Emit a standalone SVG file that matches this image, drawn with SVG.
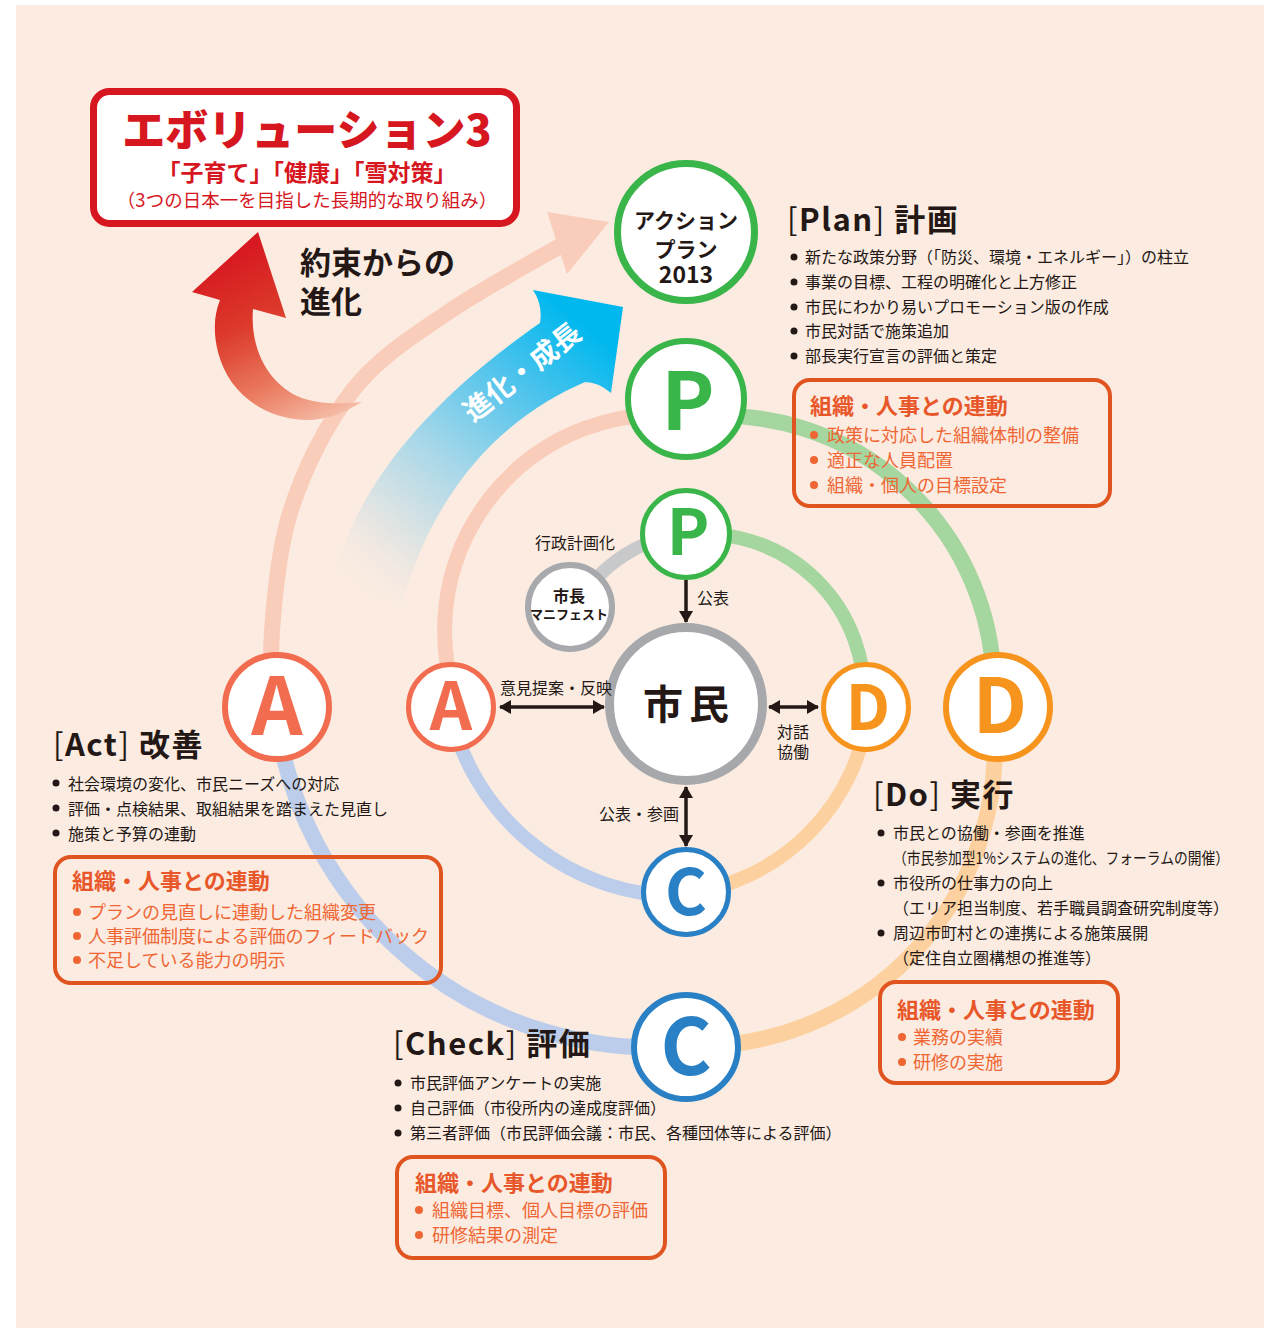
<svg xmlns="http://www.w3.org/2000/svg" width="1269" height="1328" viewBox="0 0 1269 1328">
<style>
text { font-family: 'Noto Sans CJK JP', 'Noto Sans', sans-serif; }
.body { font-size: 16px; fill: #231815; }
.head { font-size: 31px; font-weight: 700; fill: #231815; letter-spacing: 1.5px; }
.thin { font-weight: 400; }
.orgt { font-size: 22px; font-weight: 700; fill: #E8572A; }
.orgi { font-size: 18px; fill: #EF6634; }
.orgbox { fill: none; stroke: #E0541F; stroke-width: 4; }
.dot { fill: #231815; }
.odot { fill: #EF6634; }
.arc { fill: none; stroke-linecap: butt; }
.node { fill: #fff; }
.big { font-weight: 700; text-anchor: middle; }
.lbl { font-size: 16px; fill: #231815; }
.conn { stroke: #231815; stroke-width: 3.5; fill: none; }
</style>
<defs>
<marker id="ah" viewBox="0 0 12 14" refX="11" refY="7" markerWidth="12" markerHeight="14" markerUnits="userSpaceOnUse" orient="auto-start-reverse">
<path d="M0,0 L12,7 L0,14 Z" fill="#231815"/>
</marker>
<linearGradient id="gBlue" gradientUnits="userSpaceOnUse" x1="372" y1="598" x2="590" y2="330">
<stop offset="0" stop-color="#F6ECE3" stop-opacity="0"/>
<stop offset="0.15" stop-color="#E9E6E2" stop-opacity="0.9"/>
<stop offset="0.45" stop-color="#A6D7E9"/>
<stop offset="0.75" stop-color="#4EC3EC"/>
<stop offset="1" stop-color="#00B8EE"/>
</linearGradient>
<linearGradient id="gRed" gradientUnits="userSpaceOnUse" x1="245" y1="250" x2="330" y2="425">
<stop offset="0" stop-color="#D71A21"/>
<stop offset="0.35" stop-color="#DC3A2A"/>
<stop offset="0.7" stop-color="#EA7D62"/>
<stop offset="1" stop-color="#F7C3AE"/>
</linearGradient>
</defs>

<rect x="16" y="5" width="1248" height="1323" fill="#FBEBE0"/>

<g id="connectors">
<path class="arc" d="M271,660 C271,635 276,558 290,513 C304,468 327,423 353,390 C379,357 412,337 447,313 C482,289 543,256 562,245" stroke="#FACDBA" stroke-width="16"/>
<polygon points="547,212 609,222 567,274" fill="#FACDBA"/>
<path class="arc" d="M457.6,704.6 A216,216 0 0 1 684,416" stroke="#FACDBA" stroke-width="15"/>
<path class="arc" d="M688,418 A272,272 0 0 1 993,707" stroke="#A5D69F" stroke-width="16"/>
<path class="arc" d="M992,708 A298,298 0 0 1 686,1046" stroke="#FDD19F" stroke-width="16"/>
<path class="arc" d="M686,1046 A381,381 0 0 1 275,707" stroke="#BBCDEA" stroke-width="16"/>
<path class="arc" d="M686,535 A160,160 0 0 1 863.5,706.8" stroke="#A5D69F" stroke-width="14"/>
<path class="arc" d="M868.8,707.3 A210,210 0 0 1 686.2,893.4" stroke="#FDD19F" stroke-width="14"/>
<path class="arc" d="M686,896 A236,236 0 0 1 449,707" stroke="#BBCDEA" stroke-width="14"/>
<path class="arc" d="M585,592 Q612,555 660,538" stroke="#C8C9CA" stroke-width="13"/>
<line class="conn" x1="686" y1="580" x2="686" y2="622" marker-end="url(#ah)"/>
<line class="conn" x1="500" y1="707" x2="604" y2="707" marker-start="url(#ah)" marker-end="url(#ah)"/>
<line class="conn" x1="769" y1="707" x2="818" y2="707" marker-start="url(#ah)" marker-end="url(#ah)"/>
<line class="conn" x1="686" y1="787" x2="686" y2="846" marker-start="url(#ah)" marker-end="url(#ah)"/>
</g>

<g id="growth-arrow">
<path d="M333,582 C350,510 400,420 540,323 Q543,305 533,290 L623,307 L611,393 Q598,382 585,382 C520,410 440,470 402,603 Z" fill="url(#gBlue)"/>
<text transform="translate(522,372) rotate(-38)" x="0" y="10" text-anchor="middle" font-size="28" font-weight="700" fill="#fff">進化・成長</text>
</g>

<g id="promise-arrow">
<path d="M258,232 L286,318 L253,309 C250,345 265,380 297,396 C318,405 340,404 362,402 C345,412 330,420 305,420 C262,418 228,392 218,352 C213,332 214,315 220,300 L192,292 Z" fill="url(#gRed)"/>
<text x="300" y="274" font-size="31" font-weight="700" fill="#231815">約束からの</text>
<text x="300" y="313" font-size="31" font-weight="700" fill="#231815">進化</text>
</g>

<g id="evolution3">
<rect x="93.5" y="91.5" width="423" height="132" rx="16" fill="#fff" stroke="#D7171F" stroke-width="7"/>
<text x="307" y="146" text-anchor="middle" font-size="43" font-weight="900" fill="#D7171F">エボリューション3</text>
<text x="307" y="181" text-anchor="middle" font-size="23" font-weight="700" fill="#D7171F">「子育て」「健康」「雪対策」</text>
<text x="307" y="207" text-anchor="middle" font-size="18.5" fill="#D7171F">（3つの日本一を目指した長期的な取り組み）</text>
</g>

<g id="action-plan-2013">
<circle cx="686" cy="232" r="68.5" class="node" stroke="#3AB54A" stroke-width="7"/>
<text x="686" y="228" text-anchor="middle" font-size="21" font-weight="700" fill="#231815">アクション</text>
<text x="686" y="257" text-anchor="middle" font-size="21" font-weight="700" fill="#231815">プラン</text>
<text x="686" y="283" text-anchor="middle" font-size="23" font-weight="700" fill="#231815">2013</text>
</g>

<g id="plan-outer">
<circle cx="686" cy="399" r="58" class="node" stroke="#3AB54A" stroke-width="6"/>
<text x="688" y="430" class="big" font-size="80" fill="#3AB54A">P</text>
</g>
<g id="do-outer">
<circle cx="998" cy="707" r="52" class="node" stroke="#F7941E" stroke-width="6"/>
<text x="1000" y="733" class="big" font-size="76" fill="#F7941E">D</text>
</g>
<g id="check-outer">
<circle cx="686" cy="1047" r="52" class="node" stroke="#2A80C5" stroke-width="6"/>
<text x="686" y="1075" class="big" font-size="78" fill="#2A80C5">C</text>
</g>
<g id="act-outer">
<circle cx="277" cy="707" r="52" class="node" stroke="#F26C4F" stroke-width="6"/>
<text x="277" y="735" class="big" font-size="80" fill="#F26C4F">A</text>
</g>

<g id="manifest">
<circle cx="570" cy="607" r="42" class="node" stroke="#A7A9AC" stroke-width="6"/>
<text x="569" y="602" text-anchor="middle" font-size="16" font-weight="700" fill="#231815">市長</text>
<text x="569" y="619" text-anchor="middle" font-size="13" font-weight="700" fill="#231815">マニフェスト</text>
</g>
<g id="plan-inner">
<circle cx="686" cy="534" r="43.5" class="node" stroke="#3AB54A" stroke-width="5"/>
<text x="688" y="555" class="big" font-size="64" fill="#3AB54A">P</text>
</g>
<g id="do-inner">
<circle cx="866" cy="707" r="42.5" class="node" stroke="#F7941E" stroke-width="5"/>
<text x="868" y="730" class="big" font-size="62" fill="#F7941E">D</text>
</g>
<g id="check-inner">
<circle cx="686" cy="892" r="42.5" class="node" stroke="#2A80C5" stroke-width="5"/>
<text x="686" y="915" class="big" font-size="64" fill="#2A80C5">C</text>
</g>
<g id="act-inner">
<circle cx="451" cy="707" r="42.5" class="node" stroke="#F26C4F" stroke-width="5"/>
<text x="451" y="730" class="big" font-size="66" fill="#F26C4F">A</text>
</g>
<g id="citizens">
<circle cx="686" cy="704" r="76.5" class="node" stroke="#A6A8AB" stroke-width="9"/>
<text x="689" y="719" text-anchor="middle" font-size="40" font-weight="700" letter-spacing="6" fill="#231815">市民</text>
</g>

<g id="labels">
<text x="575" y="549" text-anchor="middle" class="lbl">行政計画化</text>
<text x="697" y="604" class="lbl">公表</text>
<text x="500" y="694" class="lbl" font-size="15">意見提案・反映</text>
<text x="599" y="820" class="lbl" font-size="15.5">公表・参画</text>
<text x="777" y="738" class="lbl">対話</text>
<text x="777" y="758" class="lbl">協働</text>
</g>

<g id="plan-text">
<text x="787" y="231" class="head"><tspan class="thin">[</tspan>Plan<tspan class="thin">]</tspan> 計画</text>
<circle class="dot" cx="794" cy="257" r="3.5"/>
<circle class="dot" cx="794" cy="282" r="3.5"/>
<circle class="dot" cx="794" cy="307" r="3.5"/>
<circle class="dot" cx="794" cy="331" r="3.5"/>
<circle class="dot" cx="794" cy="356" r="3.5"/>
<text x="805" y="263" class="body">新たな政策分野（「防災、環境・エネルギー」）の柱立</text>
<text x="805" y="288" class="body">事業の目標、工程の明確化と上方修正</text>
<text x="805" y="313" class="body">市民にわかり易いプロモーション版の作成</text>
<text x="805" y="337" class="body">市民対話で施策追加</text>
<text x="805" y="362" class="body">部長実行宣言の評価と策定</text>
</g>
<g id="plan-org">
<rect class="orgbox" x="794" y="380" width="316" height="126" rx="16"/>
<text x="810" y="414" class="orgt">組織・人事との連動</text>
<circle class="odot" cx="814" cy="435" r="4"/>
<circle class="odot" cx="814" cy="460" r="4"/>
<circle class="odot" cx="814" cy="485" r="4"/>
<text x="827" y="442" class="orgi">政策に対応した組織体制の整備</text>
<text x="827" y="467" class="orgi">適正な人員配置</text>
<text x="827" y="492" class="orgi">組織・個人の目標設定</text>
</g>

<g id="act-text">
<text x="53" y="756" class="head"><tspan class="thin">[</tspan>Act<tspan class="thin">]</tspan> 改善</text>
<circle class="dot" cx="56" cy="783" r="3.5"/>
<circle class="dot" cx="56" cy="808" r="3.5"/>
<circle class="dot" cx="56" cy="833" r="3.5"/>
<text x="68" y="790" class="body">社会環境の変化、市民ニーズへの対応</text>
<text x="68" y="815" class="body">評価・点検結果、取組結果を踏まえた見直し</text>
<text x="68" y="840" class="body">施策と予算の連動</text>
</g>
<g id="act-org">
<rect class="orgbox" x="55" y="857" width="386" height="126" rx="16"/>
<text x="72" y="889" class="orgt">組織・人事との連動</text>
<circle class="odot" cx="77" cy="912" r="4"/>
<circle class="odot" cx="77" cy="936" r="4"/>
<circle class="odot" cx="77" cy="960" r="4"/>
<text x="88" y="919" class="orgi">プランの見直しに連動した組織変更</text>
<text x="88" y="943" class="orgi">人事評価制度による評価のフィードバック</text>
<text x="88" y="967" class="orgi">不足している能力の明示</text>
</g>

<g id="do-text">
<text x="873" y="806" class="head"><tspan class="thin">[</tspan>Do<tspan class="thin">]</tspan> 実行</text>
<circle class="dot" cx="881" cy="833" r="3.5"/>
<circle class="dot" cx="881" cy="883" r="3.5"/>
<circle class="dot" cx="881" cy="933" r="3.5"/>
<text x="893" y="839" class="body">市民との協働・参画を推進</text>
<text x="893" y="864" class="body" font-size="15.5" textLength="336" lengthAdjust="spacingAndGlyphs">（市民参加型1%システムの進化、フォーラムの開催）</text>
<text x="893" y="889" class="body">市役所の仕事力の向上</text>
<text x="893" y="914" class="body">（エリア担当制度、若手職員調査研究制度等）</text>
<text x="893" y="939" class="body">周辺市町村との連携による施策展開</text>
<text x="893" y="964" class="body">（定住自立圏構想の推進等）</text>
</g>
<g id="do-org">
<rect class="orgbox" x="880" y="982" width="238" height="101" rx="16"/>
<text x="897" y="1018" class="orgt">組織・人事との連動</text>
<circle class="odot" cx="902" cy="1037" r="4"/>
<circle class="odot" cx="902" cy="1062" r="4"/>
<text x="913" y="1044" class="orgi">業務の実績</text>
<text x="913" y="1069" class="orgi">研修の実施</text>
</g>

<g id="check-text">
<text x="393" y="1055" class="head"><tspan class="thin">[</tspan>Check<tspan class="thin">]</tspan> 評価</text>
<circle class="dot" cx="398" cy="1083" r="3.5"/>
<circle class="dot" cx="398" cy="1108" r="3.5"/>
<circle class="dot" cx="398" cy="1133" r="3.5"/>
<text x="410" y="1089" class="body">市民評価アンケートの実施</text>
<text x="410" y="1114" class="body">自己評価（市役所内の達成度評価）</text>
<text x="410" y="1139" class="body">第三者評価（市民評価会議：市民、各種団体等による評価）</text>
</g>
<g id="check-org">
<rect class="orgbox" x="397" y="1157" width="268" height="101" rx="16"/>
<text x="415" y="1191" class="orgt">組織・人事との連動</text>
<circle class="odot" cx="419" cy="1210" r="4"/>
<circle class="odot" cx="419" cy="1235" r="4"/>
<text x="432" y="1217" class="orgi">組織目標、個人目標の評価</text>
<text x="432" y="1242" class="orgi">研修結果の測定</text>
</g>
</svg>
